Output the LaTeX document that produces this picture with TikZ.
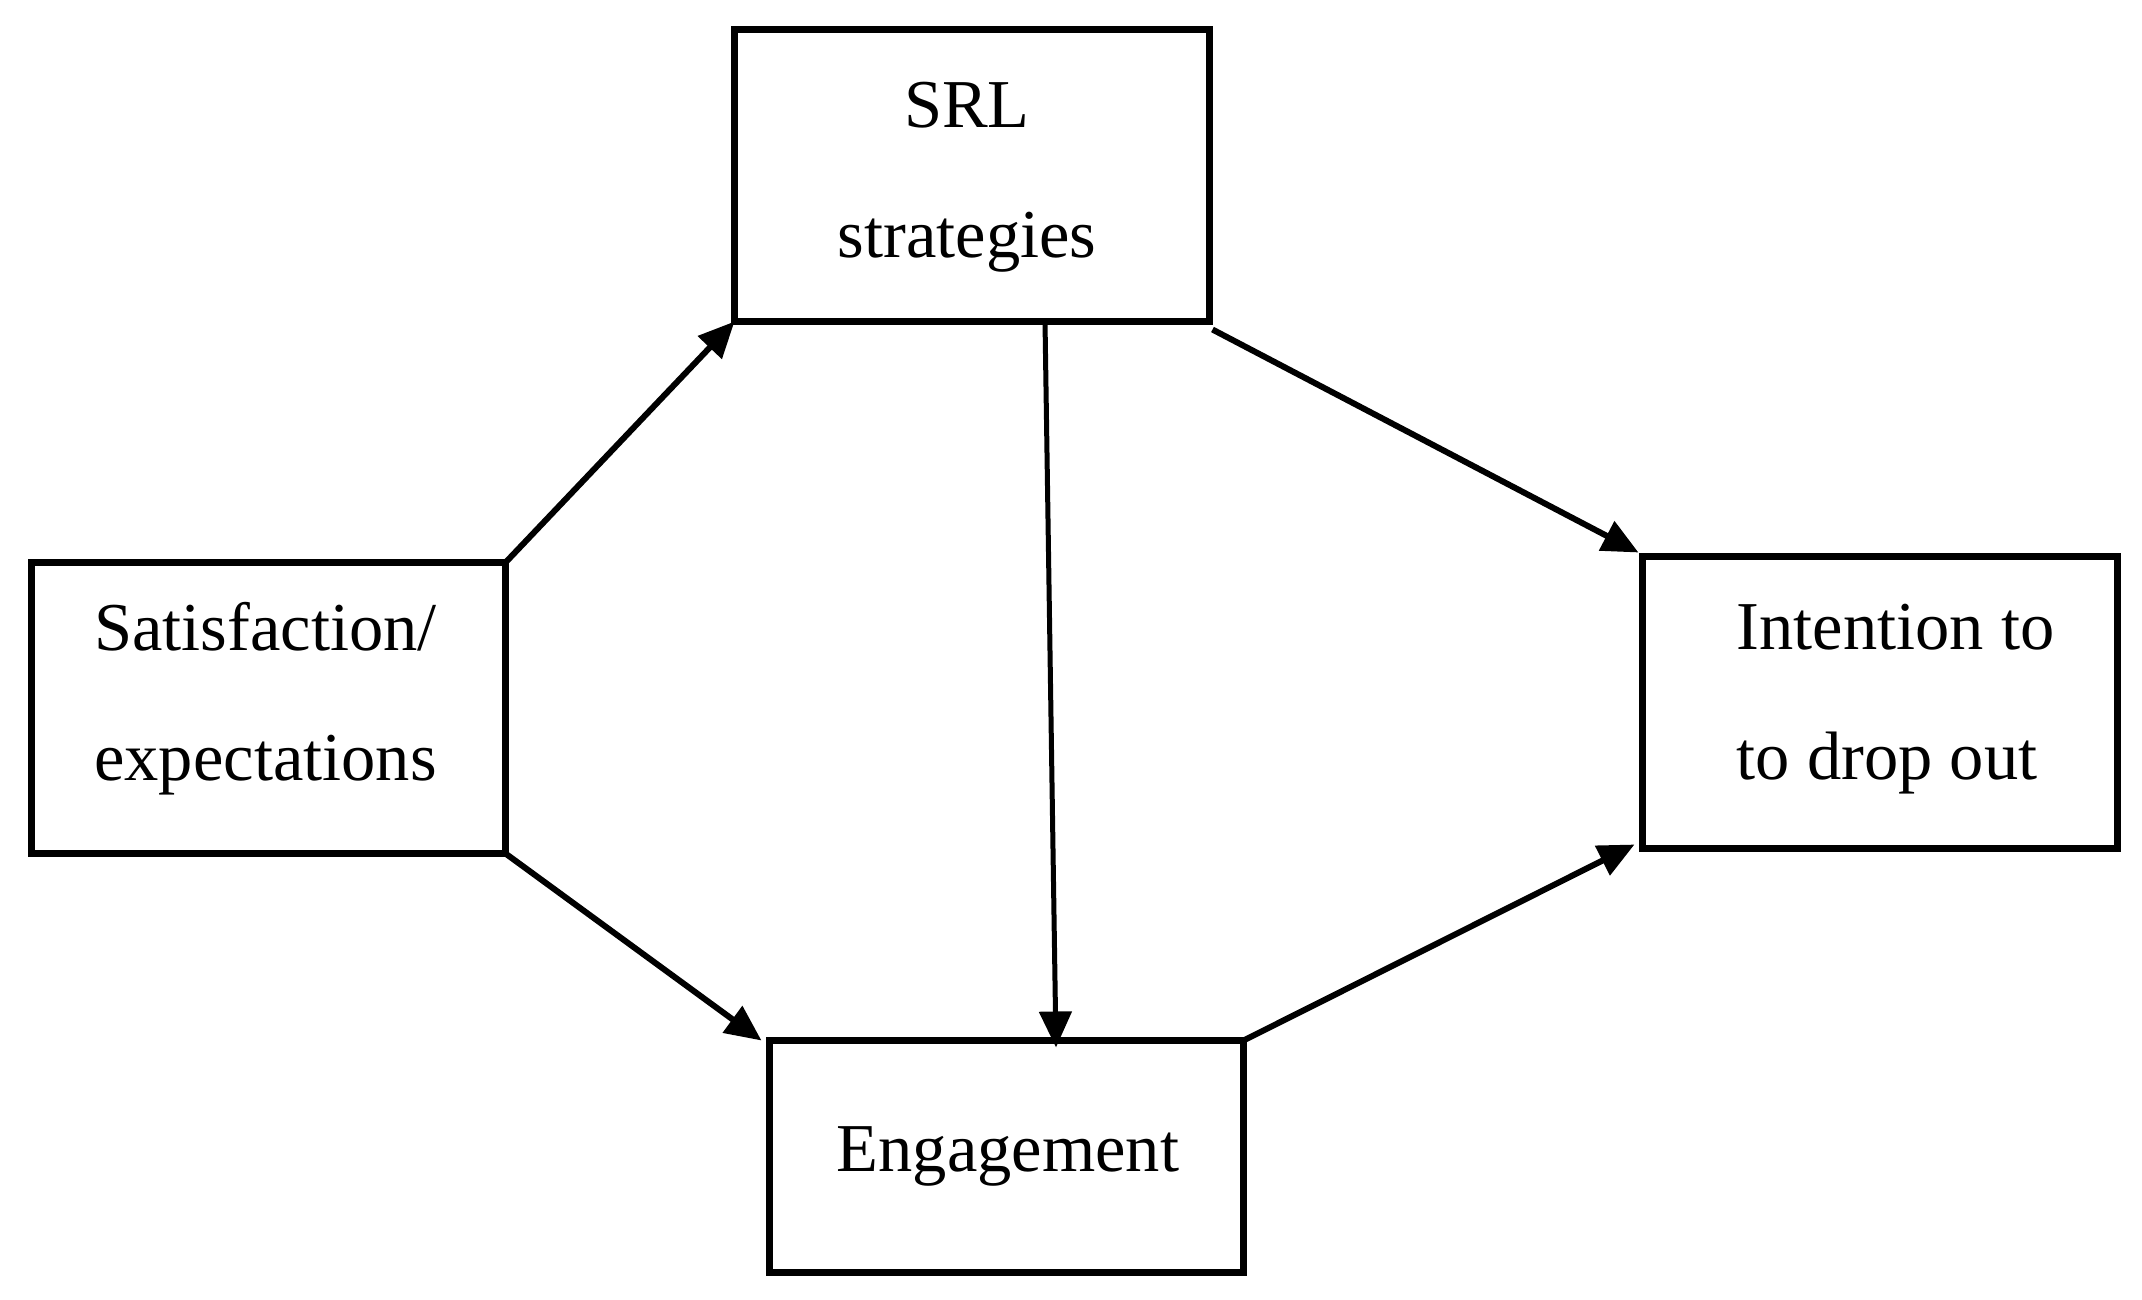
\documentclass[tikz,border=0pt]{standalone}
\usepackage{fontspec}
\setmainfont{Liberation Serif}
\usetikzlibrary{arrows.meta,calc}
\begin{document}
\begin{tikzpicture}[x=1pt,y=-1pt,
  boxnode/.style={draw=black,line width=7pt,inner sep=0pt,outer sep=0pt,fill=white},
  txtnode/.style={inner sep=0pt,outer sep=0pt,align=center,font=\fontsize{68.5}{130}\selectfont},
  conn/.style={line width=6pt,-{Triangle[length=36pt,width=32pt]}}]
\useasboundingbox[fill=white] (0,0) rectangle (2142,1299);
\node[boxnode,minimum width=474pt,minimum height=291pt] (sat) at (268.5,708) {};
\node[boxnode,minimum width=475pt,minimum height=292pt] (srl) at (972,175.5) {};
\node[boxnode,minimum width=475pt,minimum height=292pt] (int) at (1880,702.5) {};
\node[boxnode,minimum width=474pt,minimum height=232pt] (eng) at (1006.5,1156.5) {};
\node[txtnode,align=left] (sattxt) at ($(sat.center)+(-3,-9)$) {Satisfaction/\\expectations};
\node[txtnode] (srltxt) at ($(srl.center)+(-5,1.5)$) {SRL\\strategies};
\node[txtnode,align=left] (inttxt) at ($(int.center)+(15.5,-3.5)$) {Intention to\\to drop out};
\node[txtnode] (engtxt) at ($(eng.center)+(1.5,0)$) {Engagement};
\draw[conn] (sat.north east) -- (srl.south west);
\draw[conn] (sat.south east) -- ([xshift=-8pt]eng.north west);
\draw[conn,line width=5pt] ([xshift=73pt]srl.south) -- ([xshift=49.5pt,yshift=-7pt]eng.north);
\draw[conn] ([xshift=3pt,yshift=-8pt]srl.south east) -- ([xshift=-4pt,yshift=4pt]int.north west);
\draw[conn] (eng.north east) -- ([xshift=-8pt,yshift=4pt]int.south west);
\end{tikzpicture}
\end{document}
